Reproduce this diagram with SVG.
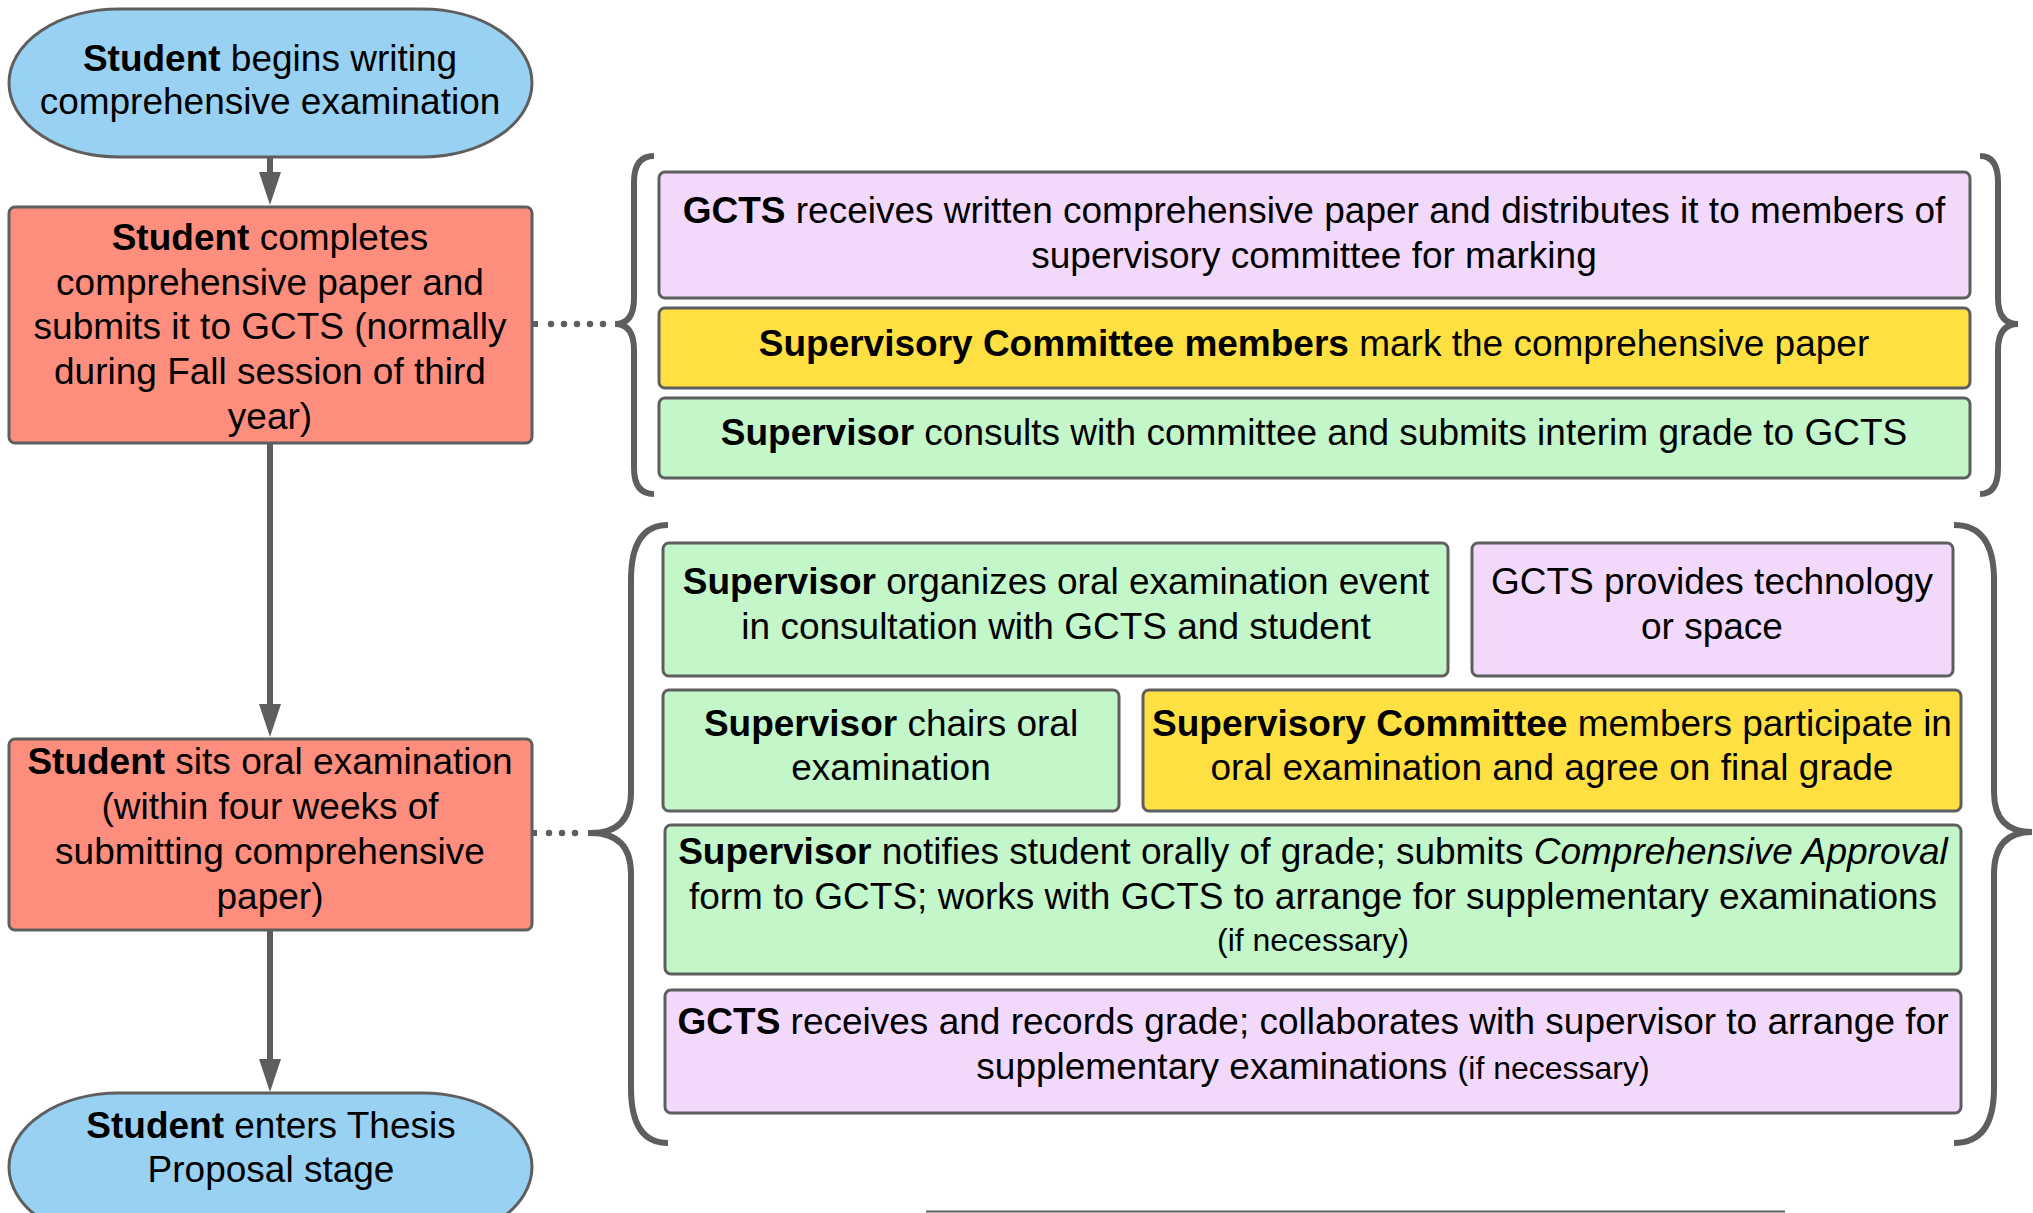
<svg xmlns="http://www.w3.org/2000/svg" width="2033" height="1213" viewBox="0 0 2033 1213">
<defs>
<style>
.t{font-family:"Liberation Sans",Arial,sans-serif;font-size:37px;fill:#000;text-anchor:middle}
.s{font-size:32px}
.b{font-weight:bold}
.nd{stroke:#5e5e5e;stroke-width:3}
.blue{fill:#99d1f2}
.red{fill:#fd8e7e}
.pur{fill:#f2d9fc}
.yel{fill:#ffe042}
.grn{fill:#c3f6c8}
.con{stroke:#5e5e5e;stroke-width:6;fill:none}
.dot{stroke:#5e5e5e;stroke-width:6.5;fill:none;stroke-dasharray:0 13;stroke-linecap:round}
.brace{stroke:#5e5e5e;stroke-width:6;fill:none}
</style>
<marker id="ah" markerUnits="userSpaceOnUse" viewBox="0 0 33 22" refX="3" refY="11" markerWidth="33" markerHeight="22" orient="auto">
<path d="M0,0 L33,11 L0,22 z" fill="#5e5e5e"/>
</marker>
</defs>
<rect width="2033" height="1213" fill="#fff"/>

<g id="connectors">
<line class="con" x1="270" y1="158" x2="270" y2="175" marker-end="url(#ah)"/>
<line class="con" x1="270" y1="444" x2="270" y2="707" marker-end="url(#ah)"/>
<line class="con" x1="270" y1="931" x2="270" y2="1062" marker-end="url(#ah)"/>
<path class="con" d="M532 324 L538 324"/>
<path class="dot" d="M551 324 L616 324"/>
<path class="con" d="M532 833 L537 833"/>
<path class="dot" d="M549 833 L588 833"/>
<path class="con" d="M588 833 L593 833"/>
<path class="brace" d="M654 156 Q634 156 634 182 L634 298 Q634 324 615 324 Q634 324 634 350 L634 468 Q634 494 654 494"/>
<path class="brace" d="M1980 156 Q1998 156 1998 182 L1998 298 Q1998 324 2018 324 Q1998 324 1998 350 L1998 468 Q1998 494 1980 494"/>
<path class="brace" d="M668 525 Q631 525 631 580 L631 792 Q631 833 591 833 Q631 833 631 874 L631 1088 Q631 1143 668 1143"/>
<path class="brace" d="M1954 525 Q1994 525 1994 580 L1994 792 Q1994 832 2032 832 Q1994 832 1994 874 L1994 1088 Q1994 1143 1954 1143"/>
<line x1="926" y1="1211.5" x2="1785" y2="1211.5" stroke="#5e5e5e" stroke-width="2"/>
</g>

<g id="n1">
<rect class="nd blue" x="9" y="9" width="523" height="148" rx="110" ry="74"/>
<text class="t" x="270" y="71"><tspan class="b">Student</tspan> begins writing</text>
<text class="t" x="270" y="114">comprehensive examination</text>
</g>

<g id="n2">
<rect class="nd red" x="9" y="207" width="523" height="236" rx="6"/>
<text class="t" x="270" y="250"><tspan class="b">Student</tspan> completes</text>
<text class="t" x="270" y="295">comprehensive paper and</text>
<text class="t" x="270" y="339">submits it to GCTS (normally</text>
<text class="t" x="270" y="384">during Fall session of third</text>
<text class="t" x="270" y="429">year)</text>
</g>

<g id="n3">
<rect class="nd red" x="9" y="739" width="523" height="191" rx="6"/>
<text class="t" x="270" y="774"><tspan class="b">Student</tspan> sits oral examination</text>
<text class="t" x="270" y="819">(within four weeks of</text>
<text class="t" x="270" y="864">submitting comprehensive</text>
<text class="t" x="270" y="909">paper)</text>
</g>

<g id="n4">
<rect class="nd blue" x="9" y="1093" width="523" height="148" rx="110" ry="74"/>
<text class="t" x="271" y="1138"><tspan class="b">Student</tspan> enters Thesis</text>
<text class="t" x="271" y="1182">Proposal stage</text>
</g>

<g id="nA">
<rect class="nd pur" x="659" y="172" width="1311" height="126" rx="6"/>
<text class="t" x="1314" y="223"><tspan class="b">GCTS</tspan> receives written comprehensive paper and distributes it to members of</text>
<text class="t" x="1314" y="268">supervisory committee for marking</text>
</g>

<g id="nB">
<rect class="nd yel" x="659" y="308" width="1311" height="80" rx="6"/>
<text class="t" x="1314" y="356"><tspan class="b">Supervisory Committee members</tspan> mark the comprehensive paper</text>
</g>

<g id="nC">
<rect class="nd grn" x="659" y="398" width="1311" height="80" rx="6"/>
<text class="t" x="1314" y="445"><tspan class="b">Supervisor</tspan> consults with committee and submits interim grade to GCTS</text>
</g>

<g id="nD">
<rect class="nd grn" x="663" y="543" width="785" height="133" rx="6"/>
<text class="t" x="1056" y="594"><tspan class="b">Supervisor</tspan> organizes oral examination event</text>
<text class="t" x="1056" y="639">in consultation with GCTS and student</text>
</g>

<g id="nE">
<rect class="nd pur" x="1472" y="543" width="481" height="133" rx="6"/>
<text class="t" x="1712" y="594">GCTS provides technology</text>
<text class="t" x="1712" y="639">or space</text>
</g>

<g id="nF">
<rect class="nd grn" x="663" y="690" width="456" height="121" rx="6"/>
<text class="t" x="891" y="736"><tspan class="b">Supervisor</tspan> chairs oral</text>
<text class="t" x="891" y="780">examination</text>
</g>

<g id="nG">
<rect class="nd yel" x="1143" y="690" width="818" height="121" rx="6"/>
<text class="t" x="1552" y="736"><tspan class="b">Supervisory Committee</tspan> members participate in</text>
<text class="t" x="1552" y="780">oral examination and agree on final grade</text>
</g>

<g id="nH">
<rect class="nd grn" x="665" y="825" width="1296" height="149" rx="6"/>
<text class="t" x="1313" y="864"><tspan class="b">Supervisor</tspan> notifies student orally of grade; submits <tspan font-style="italic">Comprehensive Approval</tspan></text>
<text class="t" x="1313" y="909">form to GCTS; works with GCTS to arrange for supplementary examinations</text>
<text class="t s" x="1313" y="951">(if necessary)</text>
</g>

<g id="nI">
<rect class="nd pur" x="665" y="990" width="1296" height="123" rx="6"/>
<text class="t" x="1313" y="1034"><tspan class="b">GCTS</tspan> receives and records grade; collaborates with supervisor to arrange for</text>
<text class="t" x="1313" y="1079">supplementary examinations <tspan class="s">(if necessary)</tspan></text>
</g>
</svg>
